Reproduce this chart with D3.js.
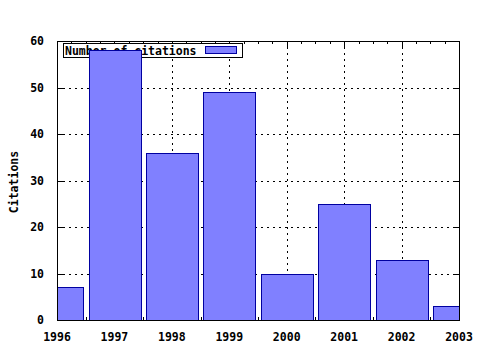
<!DOCTYPE html>
<html>
<head>
<meta charset="utf-8">
<script src="https://cdn.jsdelivr.net/npm/d3@7"></script>
<style>
  body { margin: 0; background: #fff; }
  text { font-family: "DejaVu Sans Mono", monospace; font-weight: bold; font-size: 11.5px; }
</style>
</head>
<body>
<div id="chart"></div>
<script>
var years = [1996, 1997, 1998, 1999, 2000, 2001, 2002, 2003];
var citations = [7, 58, 36, 49, 10, 25, 13, 3];
var yTicks = [0, 10, 20, 30, 40, 50, 60];
var seriesName = "Number of citations";

var width = 480, height = 350;
var plotLeft = 57, plotRight = 459, plotTop = 41, plotBottom = 320;

var svg = d3.select("#chart").append("svg")
    .attr("width", width).attr("height", height);

var x = d3.scaleLinear().domain([1996, 2003]).range([plotLeft, plotRight]);
var y = d3.scaleLinear().domain([0, 60]).range([plotBottom, plotTop]);

svg.append("defs").append("clipPath").attr("id", "plotclip")
  .append("rect").attr("x", plotLeft).attr("y", plotTop)
  .attr("width", plotRight - plotLeft).attr("height", plotBottom - plotTop);

// grid
var grid = svg.append("g").attr("stroke", "#000").attr("stroke-dasharray", "2,4")
    .attr("shape-rendering", "crispEdges");
grid.selectAll(".gx").data(years.slice(1, -1)).enter().append("line")
    .attr("x1", d => Math.round(x(d)) + 0.5).attr("x2", d => Math.round(x(d)) + 0.5)
    .attr("y1", plotTop).attr("y2", plotBottom);
grid.selectAll(".gy").data(yTicks.slice(1, -1)).enter().append("line")
    .attr("y1", d => Math.round(y(d)) + 0.5).attr("y2", d => Math.round(y(d)) + 0.5)
    .attr("x1", plotLeft).attr("x2", plotRight);

// ticks (inward, mirrored) - x has minor ticks, y only major
var ticks = svg.append("g").attr("stroke", "#000").attr("shape-rendering", "crispEdges");
var minorX = d3.range(1996, 2003.001, 0.25);
minorX.forEach(function (v) {
  var major = Math.abs(v - Math.round(v)) < 1e-6;
  var len = major ? 6 : 3;
  var px = Math.round(x(v)) + 0.5;
  ticks.append("line").attr("x1", px).attr("x2", px).attr("y1", plotBottom).attr("y2", plotBottom - len);
  ticks.append("line").attr("x1", px).attr("x2", px).attr("y1", plotTop).attr("y2", plotTop + len);
});
yTicks.forEach(function (v) {
  var py = Math.round(y(v)) + 0.5;
  ticks.append("line").attr("x1", plotLeft).attr("x2", plotLeft + 6).attr("y1", py).attr("y2", py);
  ticks.append("line").attr("x1", plotRight).attr("x2", plotRight - 6).attr("y1", py).attr("y2", py);
});

// legend
var legend = svg.append("g");
legend.append("rect").attr("x", 63.5).attr("y", 43.5).attr("width", 179).attr("height", 14)
    .attr("fill", "#fff").attr("stroke", "#000");
legend.append("text").attr("x", 65).attr("y", 55).text(seriesName);
legend.append("rect").attr("x", 205.5).attr("y", 46.5).attr("width", 31).attr("height", 7)
    .attr("fill", "#8080ff").attr("stroke", "#0000a0");

// bars
var barW = (x(1997) - x(1996)) * 0.9;
svg.append("g").attr("clip-path", "url(#plotclip)")
  .selectAll("rect").data(years).enter().append("rect")
    .attr("x", d => Math.round(x(d) - barW / 2) + 0.5)
    .attr("y", (d, i) => Math.round(y(citations[i])) + 0.5)
    .attr("width", Math.round(barW))
    .attr("height", (d, i) => Math.round(plotBottom - y(citations[i])) + 1)
    .attr("fill", "#8080ff").attr("stroke", "#0000a0")
    .attr("shape-rendering", "crispEdges");

// border
svg.append("rect").attr("x", plotLeft + 0.5).attr("y", plotTop + 0.5)
    .attr("width", plotRight - plotLeft).attr("height", plotBottom - plotTop)
    .attr("fill", "none").attr("stroke", "#000").attr("shape-rendering", "crispEdges");

// tick labels
svg.append("g").selectAll("text").data(years).enter().append("text")
    .attr("x", d => x(d)).attr("y", 341).attr("text-anchor", "middle").text(d => d);
svg.append("g").selectAll("text").data(yTicks).enter().append("text")
    .attr("x", 44).attr("y", d => y(d) + 4).attr("text-anchor", "end").text(d => d);

svg.append("text").attr("transform", "translate(18,182) rotate(-90)")
    .attr("text-anchor", "middle").text("Citations");
</script>
</body>
</html>
